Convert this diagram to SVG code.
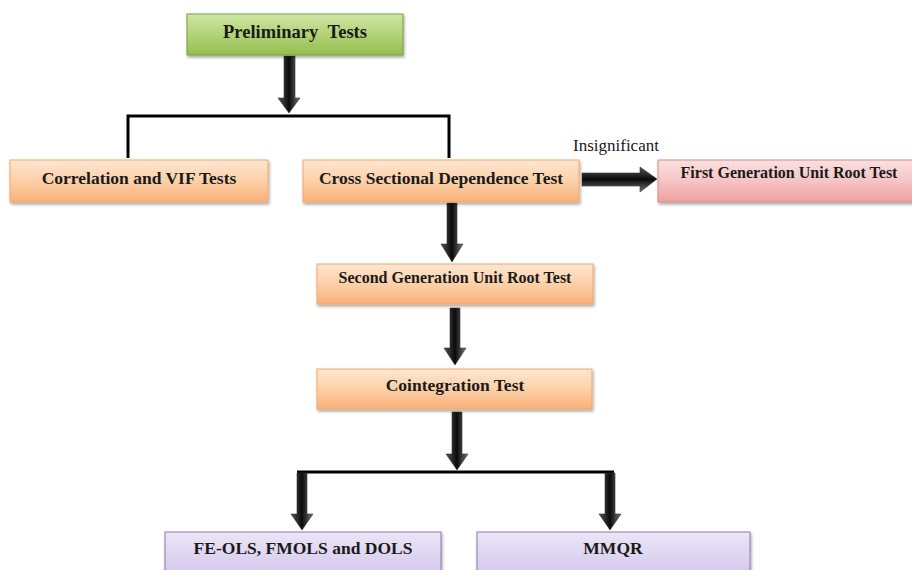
<svg xmlns="http://www.w3.org/2000/svg" width="912" height="570" viewBox="0 0 912 570">
<defs>
<linearGradient id="gOrange" x1="0" y1="0" x2="0" y2="1">
<stop offset="0" stop-color="#fde7d2"/><stop offset="0.5" stop-color="#fcd0a8"/><stop offset="1" stop-color="#f8b07a"/>
</linearGradient>
<linearGradient id="gGreen" x1="0" y1="0" x2="0" y2="1">
<stop offset="0" stop-color="#cfe5a4"/><stop offset="0.5" stop-color="#b2d377"/><stop offset="1" stop-color="#93be4e"/>
</linearGradient>
<linearGradient id="gPink" x1="0" y1="0" x2="0" y2="1">
<stop offset="0" stop-color="#fbe0e0"/><stop offset="0.5" stop-color="#f6c4c4"/><stop offset="1" stop-color="#ef9f9f"/>
</linearGradient>
<linearGradient id="gPurple" x1="0" y1="0" x2="0" y2="1">
<stop offset="0" stop-color="#ece6f6"/><stop offset="1" stop-color="#d2c6ec"/>
</linearGradient>
<linearGradient id="gArrV" x1="0" y1="0" x2="1" y2="0">
<stop offset="0" stop-color="#555"/><stop offset="0.5" stop-color="#0a0a0a"/><stop offset="1" stop-color="#777"/>
</linearGradient>
<linearGradient id="gArrH" x1="0" y1="0" x2="0" y2="1">
<stop offset="0" stop-color="#555"/><stop offset="0.5" stop-color="#0a0a0a"/><stop offset="1" stop-color="#777"/>
</linearGradient>
<filter id="sh" x="-5%" y="-20%" width="110%" height="150%">
<feDropShadow dx="1" dy="2" stdDeviation="1.5" flood-color="#000" flood-opacity="0.35"/>
</filter>
</defs>
<style>
.box{filter:url(#sh);stroke-width:1}
.or{fill:url(#gOrange);stroke:#f4a76a}
.gr{fill:url(#gGreen);stroke:#7c9a45}
.pk{fill:url(#gPink);stroke:#d98a8a}
.pu{fill:url(#gPurple);stroke:#8b78b0}
.t{font-family:"Liberation Serif","Times New Roman",serif;font-weight:bold;font-size:17.5px;fill:#1a1a1a;text-anchor:middle}
.sm{font-size:16px}
.lbl{font-family:"Liberation Serif","Times New Roman",serif;font-size:17px;fill:#1a1a1a}
.ln{fill:none;stroke:#000;stroke-width:3}
.av{fill:url(#gArrV);stroke:#333;stroke-width:0.6}
.ah{fill:url(#gArrH);stroke:#333;stroke-width:0.6}
</style>

<g id="connectors">
<path class="av" d="M284,56 H295 V98 H300 L289,113 L278,98 H284 Z"/>
<path class="ln" d="M128,158 V116 H449 V158"/>
<path class="ah" d="M582,173 H640 V167 L657,179 L640,192 V186 H582 Z"/>
<text class="lbl" x="573" y="151">Insignificant</text>
<path class="av" d="M447,203 H457 V244 H463 L452,262 L441,244 H447 Z"/>
<path class="av" d="M450,308 H460 V348 H466 L455,365 L444,348 H450 Z"/>
<path class="av" d="M452,412 H462 V454 H468 L457,470 L446,454 H452 Z"/>
<path class="ln" d="M297,472 H614"/>
<path class="av" d="M297,473 H307 V514 H313 L302,530 L291,514 H297 Z"/>
<path class="av" d="M605,473 H615 V514 H621 L610,530 L599,514 H605 Z"/>
</g>

<g id="preliminary">
<rect class="box gr" x="187" y="14" width="216" height="41"/>
<text class="t" x="295" y="38" style="font-size:18.5px" word-spacing="5">Preliminary Tests</text>
</g>
<g id="correlation">
<rect class="box or" x="10" y="160" width="258" height="42"/>
<text class="t" x="139" y="184">Correlation and VIF Tests</text>
</g>
<g id="cross">
<rect class="box or" x="303" y="160" width="276" height="42"/>
<text class="t" x="441" y="184">Cross Sectional Dependence Test</text>
</g>
<g id="firstgen">
<rect class="box pk" x="658" y="160" width="260" height="42"/>
<text class="t sm" x="789" y="178">First Generation Unit Root Test</text>
</g>
<g id="secondgen">
<rect class="box or" x="317" y="264" width="276" height="40"/>
<text class="t sm" x="455" y="283">Second Generation Unit Root Test</text>
</g>
<g id="cointegration">
<rect class="box or" x="317" y="369" width="275" height="40"/>
<text class="t" x="455" y="391">Cointegration Test</text>
</g>
<g id="feols">
<rect class="box pu" x="165" y="532" width="276" height="44"/>
<text class="t" x="303" y="554">FE-OLS, FMOLS and DOLS</text>
</g>
<g id="mmqr">
<rect class="box pu" x="477" y="532" width="273" height="44"/>
<text class="t" x="613" y="554">MMQR</text>
</g>
</svg>
